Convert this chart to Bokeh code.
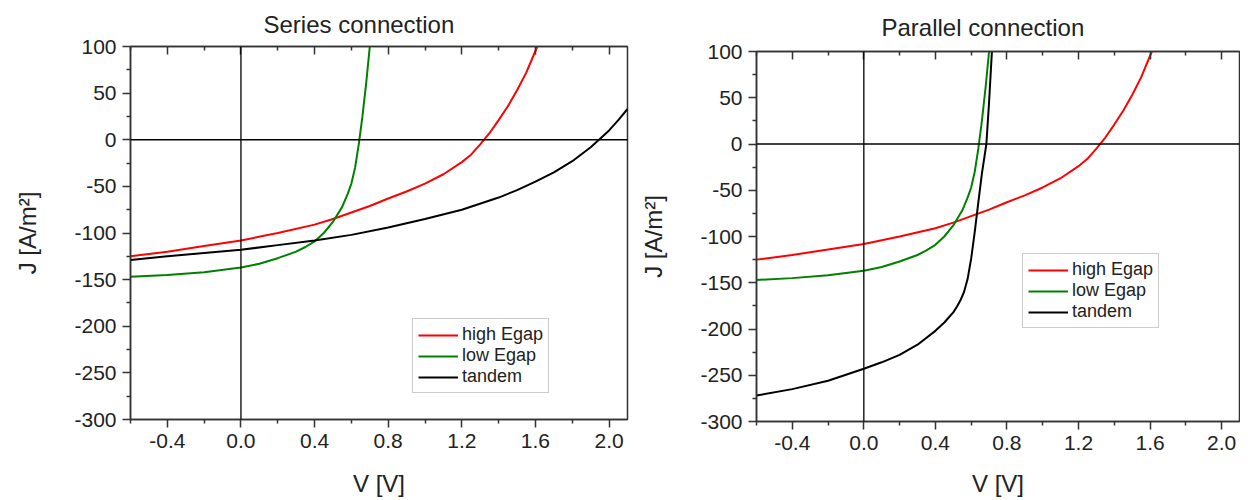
from bokeh.plotting import figure
from bokeh.layouts import row, column
from bokeh.models import (Span, Legend, LegendItem, LinearAxis, FixedTicker,
                          PrintfTickFormatter, Range1d, Title, CustomJSTickFormatter)
from bokeh.embed import file_html
from bokeh.resources import INLINE

# ---------------- data ----------------
x_ticks = [-0.4, 0.0, 0.4, 0.8, 1.2, 1.6, 2.0]
x_minor = [-0.6, -0.2, 0.2, 0.6, 1.0, 1.4, 1.8]
y_ticks = [-300, -250, -200, -150, -100, -50, 0, 50, 100]
y_minor = [-275, -225, -175, -125, -75, -25, 25, 75]

v_high = [-0.6, -0.4, -0.2, 0.0, 0.2, 0.4, 0.5, 0.6, 0.7, 0.8, 0.9, 1.0, 1.1, 1.2, 1.25, 1.3, 1.35, 1.4, 1.45, 1.5, 1.55, 1.61]
j_high = [-125, -120, -114, -108, -100, -91, -85, -78, -71, -63, -55.5, -47, -37, -24, -16, -5, 7, 21, 36, 53, 72, 100]

v_low = [-0.6, -0.4, -0.2, 0.0, 0.1, 0.2, 0.3, 0.35, 0.4, 0.45, 0.5, 0.55, 0.58, 0.6, 0.62, 0.64, 0.66, 0.68, 0.70]
j_low = [-147, -145, -142, -137, -133, -127, -120, -115, -109, -100, -88, -72, -58, -47, -30, -5, 25, 60, 100]

v_tandem_series = [-0.6, -0.4, -0.2, 0.0, 0.2, 0.4, 0.6, 0.8, 1.0, 1.2, 1.4, 1.5, 1.6, 1.7, 1.8, 1.9, 1.945, 2.0, 2.05, 2.1]
j_tandem_series = [-129, -125, -121.5, -118, -113, -108, -102, -94, -85, -75, -62, -54, -45, -35, -23, -8, 0, 10, 21, 33]

v_tandem_parallel = [-0.6, -0.4, -0.2, 0.0, 0.1, 0.2, 0.3, 0.4, 0.45, 0.5, 0.52, 0.54, 0.56, 0.58, 0.6, 0.62, 0.64, 0.66, 0.685, 0.70, 0.716]
j_tandem_parallel = [-272, -265, -256, -243, -236, -228, -217, -202, -193, -182, -176, -169, -160, -146, -124, -95, -63, -32, 0, 45, 100]

labels = ["high Egap", "low Egap", "tandem"]
colors = ["#ff0000", "#008000", "#000000"]

FONT = "Liberation Sans"
AX = "#333333"


def make_fig(title, width, bl, br, bt, bb, title_offset, title_standoff, xlabel_standoff,
             tandem_v, tandem_j, legend_loc):
    p = figure(width=width, height=500, x_range=Range1d(-0.6, 2.1), y_range=Range1d(-300, 100),
               output_backend="svg", toolbar_location=None,
               min_border_left=bl, min_border_right=br, min_border_top=bt, min_border_bottom=bb)
    p.grid.visible = False
    p.outline_line_color = AX
    p.outline_line_width = 1.5
    p.background_fill_color = "white"
    p.border_fill_color = "white"

    # zero lines
    p.add_layout(Span(location=0, dimension="width", line_color="black", line_width=1.3))
    p.add_layout(Span(location=0, dimension="height", line_color="black", line_width=1.3))

    r1 = p.line(v_high, j_high, line_color=colors[0], line_width=2)
    r2 = p.line(v_low, j_low, line_color=colors[1], line_width=2)
    r3 = p.line(tandem_v, tandem_j, line_color=colors[2], line_width=2)

    xa = p.xaxis[0]
    xa.ticker = FixedTicker(ticks=x_ticks, minor_ticks=x_minor)
    xa.formatter = PrintfTickFormatter(format="%.1f")
    xa.axis_label = "V [V]"
    ya = p.yaxis[0]
    ya.ticker = FixedTicker(ticks=y_ticks, minor_ticks=y_minor)
    ya.formatter = PrintfTickFormatter(format="%d")
    ya.axis_label = "J [A/m²]"
    for a in (xa, ya):
        a.axis_line_color = AX
        a.axis_line_width = 1.5
        a.major_tick_line_color = AX
        a.major_tick_line_width = 1.5
        a.minor_tick_line_color = AX
        a.minor_tick_line_width = 1.5
        a.major_tick_in = 0
        a.major_tick_out = 8
        a.minor_tick_in = 0
        a.minor_tick_out = 4
        a.major_label_text_font = FONT
        a.major_label_text_font_size = "21px"
        a.major_label_text_color = "#222222"
        a.axis_label_text_font = FONT
        a.axis_label_text_font_size = "24px"
        a.axis_label_text_font_style = "normal"
        a.axis_label_text_color = "#222222"
        a.major_label_standoff = 6
    xa.axis_label_standoff = xlabel_standoff
    ya.axis_label_standoff = 30

    top = LinearAxis(ticker=FixedTicker(ticks=x_ticks, minor_ticks=x_minor),
                     formatter=CustomJSTickFormatter(code="return ''"),
                     axis_line_color=AX, axis_line_width=1.5,
                     major_tick_line_color=AX, major_tick_line_width=1.5,
                     minor_tick_line_color=AX, minor_tick_line_width=1.5,
                     major_tick_in=8, major_tick_out=0, minor_tick_in=4, minor_tick_out=0,
                     major_label_standoff=0, major_label_text_font_size="0px")
    p.add_layout(top, "above")
    p.add_layout(Title(text=title, align="left", offset=title_offset, text_font=FONT,
                       text_font_size="24px", text_font_style="normal", text_color="#222222",
                       text_line_height=0.6, standoff=title_standoff), "above")

    legend = Legend(items=[LegendItem(label=labels[0], renderers=[r1]),
                           LegendItem(label=labels[1], renderers=[r2]),
                           LegendItem(label=labels[2], renderers=[r3])],
                    location=legend_loc, label_text_font=FONT, label_text_font_size="18px",
                    label_text_color="#222222",
                    glyph_width=40, glyph_height=20, label_height=20, spacing=0, padding=5,
                    label_standoff=4, margin=0, border_line_color="#999999",
                    border_line_width=1, background_fill_color="white", background_fill_alpha=1)
    p.add_layout(legend)
    return p


p1 = make_fig("Series connection", 637, 130, 10, 45, 81, 133, 17, 19,
              v_tandem_series, j_tandem_series, (282, 26))
p2 = make_fig("Parallel connection", 603, 116, 1, 50, 79, 125, 22, 17,
              v_tandem_parallel, j_tandem_parallel, (266, 93))

layout = row(column(p1), column(p2))
open("out.html", "w").write(file_html(layout, INLINE))
